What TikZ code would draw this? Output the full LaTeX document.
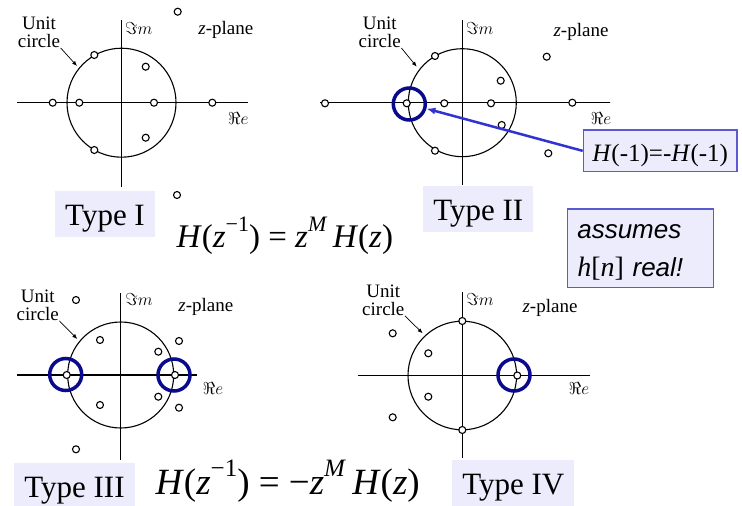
\documentclass[tikz,border=0pt]{standalone}
\usepackage{fontspec}
\setmainfont{Liberation Serif}
\newfontfamily\notefont{Liberation Sans}
\usetikzlibrary{arrows.meta}
\definecolor{lavfill}{RGB}{236,236,252}
\definecolor{boxedge}{RGB}{90,90,210}
\definecolor{ptrblue}{RGB}{50,50,210}
\definecolor{ringblue}{RGB}{10,10,140}
\newcommand\eqsup[2][22]{\raisebox{.48em}{\fontsize{#1}{#1}\selectfont #2}}

\begin{document}
\begin{tikzpicture}[x=1pt, y=-1pt, >=Latex, line width=1.1pt,
    zero/.style={draw, fill=white, line width=1.1pt},
    ring/.style={circle, draw=ringblue, line width=3.5pt, minimum size=32pt, inner sep=0pt},
    lbl/.style={font=\fontsize{19}{18}\selectfont, inner sep=0pt, align=center},
    axlbl/.style={font=\fontsize{17}{17}\selectfont, inner sep=0pt},
    typelab/.style={fill=lavfill, font=\fontsize{31}{36}\selectfont, inner xsep=10pt, inner ysep=7.5pt, text height=27pt, text depth=4pt, anchor=base},
    noteframe/.style={fill=lavfill, draw=boxedge, line width=1.2pt},
    uarrow/.style={-{Latex[length=5pt,width=4pt]}, line width=0.7pt}]
    \fill[white] (0,0) rectangle (742,506);
    \useasboundingbox (0,0) rectangle (742,506);
    \begin{scope}
      \clip (0,0) rectangle (610,506);
      \foreach \cx/\cy/\r/\xa/\xb/\ya/\yb in {121.5/102.7/54.5/17/248/20/187, 462.3/102.7/54/320/615/20/185, 120.7/375/53/16.7/197/293/460, 462.3/375.5/54.3/358/590/292/458} {
        \draw (\cx,\cy) circle (\r pt);
        \draw (\xa,\cy) -- (\xb,\cy);
        \draw (\cx,\ya) -- (\cx,\yb);
      }
      \foreach \n/\ux/\uy/\tx/\ty/\imx/\imy/\zx/\zy/\rx/\ry in {I/39/32/77/66/138.8/28.3/225.8/30/238.3/118.3, II/379.7/32/416.7/66.7/479.7/28.3/581/31.7/601/118.3, III/37.8/305/77.3/339/139/299.3/205.8/306.7/213/388.3, IV/383.3/300/422.7/333.3/480/299.3/550/308.3/579/388.3} {
        \node[lbl] (unit\n) at (\ux,\uy) {Unit\\circle};
        \coordinate (tip\n) at (\tx,\ty);
        \draw[uarrow] (unit\n.south east) -- (tip\n);
        \node[axlbl] (im\n) at (\imx,\imy) {$\Im m$};
        \node[axlbl, font=\fontsize{19}{19}\selectfont] (zp\n) at (\zx,\zy) {\textit{z}-plane};
        \node[axlbl] (re\n) at (\rx,\ry) {$\Re e$};
      }
      \foreach \x/\y in {94.3/55, 145.7/66.7, 52.7/102.7, 79.3/102.7, 154/102.7, 212.3/102.7, 145.7/137.7, 94.3/150, 177.7/11.7, 177/195,
          435/56, 546.7/56.7, 500.7/80.7, 325/103.3, 406.7/103.3, 444.3/103.3, 491/103.3, 572.3/102.7, 501.7/125, 435/150.7, 548.3/153.3,
          76/300, 100/340, 179/341, 158.3/351.7, 66.7/375, 175/375, 158.3/396.7, 179/407.7, 100/405, 76/449.3,
          462.3/321, 462.3/430, 392.7/333.3, 428.3/353.3, 517.3/375.5, 428.3/396.7, 392.7/417.3}
        \draw[zero] (\x,\y) circle (3.5pt);
      \node[ring] (ringII) at (409.3,104) {};
      \node[ring] (ringIIIl) at (65.7,374.5) {};
      \node[ring] (ringIIIr) at (174,375) {};
      \node[ring] (ringIV) at (514,375) {};
      \node[typelab] (typeI) at (105,225) {Type I};
      \node[typelab] (typeII) at (478.3,220.5) {Type II};
      \node[typelab] (typeIII) at (74.5,497) {Type III};
      \node[typelab] (typeIV) at (513.3,494) {Type IV};
      \node[anchor=base west, inner sep=0pt, font=\fontsize{33}{38}\selectfont] (eqsym) at (176,247)
        {\textit{H}(\textit{z}\eqsup{−1}) = \textit{z}\eqsup{\textit{M}}\,\textit{H}(\textit{z})};
      \node[anchor=base west, inner sep=0pt, font=\fontsize{37}{42}\selectfont] (eqanti) at (155,494)
        {\textit{H}(\textit{z}\eqsup[25]{−1}) = −\textit{z}\eqsup[25]{\textit{M}}\,\textit{H}(\textit{z})};
    \end{scope}
    \node[noteframe, anchor=base west, font=\fontsize{25}{30}\selectfont, inner xsep=9pt, inner ysep=4pt, text height=27.7pt, text depth=6pt] (hbox) at (582.7,161.7)
      {\textit{H}(-1)=-\textit{H}(-1)};
    \node[noteframe, anchor=north west, align=left, text width=126pt, inner xsep=10pt, inner ysep=2.6pt, font=\notefont\itshape\fontsize{26}{38.3}\selectfont] (assume) at (566.7,208.3)
      {\rule{0pt}{26.8pt}assumes\\{\rmfamily\upshape\fontsize{28}{38.3}\selectfont\textit{h}[\textit{n}]} real!\rule[-8pt]{0pt}{8pt}};
    \draw[ptrblue, line width=2.5pt, -{Latex[length=9pt,width=7pt]}] (hbox.west) -- (ringII);
  \end{tikzpicture}
\end{document}
